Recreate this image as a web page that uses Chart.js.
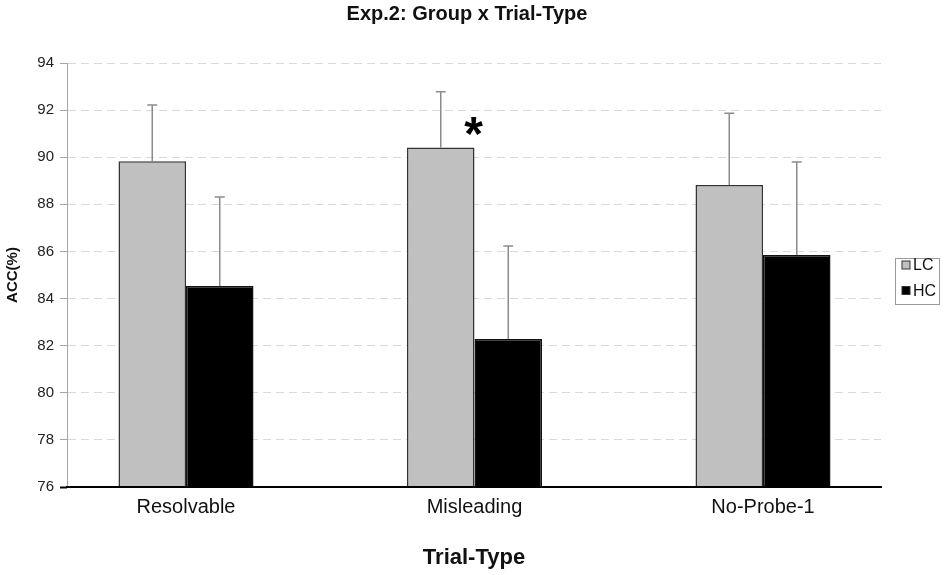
<!DOCTYPE html>
<html>
<head>
<meta charset="utf-8">
<title>Exp.2: Group x Trial-Type</title>
<script src="https://cdn.jsdelivr.net/npm/chart.js@4.4.1/dist/chart.umd.min.js"></script>
<style>
  html, body { margin: 0; padding: 0; background: #fff; }
  #wrap { width: 945px; height: 575px; }
</style>
</head>
<body>
<div id="wrap"><canvas id="accChart" width="945" height="575"></canvas></div>
<script>
// values (accuracy in %)
const trialTypes = ['Resolvable', 'Misleading', 'No-Probe-1'];
const groupNames = ['LC', 'HC'];
const lcMeans = [89.83, 90.41, 88.82];
const hcMeans = [84.53, 82.28, 85.85];
const lcErrors = [2.39, 2.37, 3.05];
const hcErrors = [3.78, 3.95, 3.95];
const yTicks = [76, 78, 80, 82, 84, 86, 88, 90, 92, 94];
const sigMarks = ['', '*', ''];
const sigLevel = 91.3;

const FONT = "'Liberation Sans', Arial, Helvetica, sans-serif";
const groupColors = ['#c0c0c0', '#000000'];

// error bars (upper half only) + significance star
const errorBarsPlugin = {
    id: 'errorBars',
    afterDatasetsDraw(chart) {
        const ctx = chart.ctx;
        const yScale = chart.scales.y;
        const errs = [lcErrors, hcErrors];
        ctx.save();
        ctx.strokeStyle = '#8c8c8c';
        ctx.lineWidth = 1.5;
        chart.data.datasets.forEach((ds, d) => {
            const meta = chart.getDatasetMeta(d);
            meta.data.forEach((bar, i) => {
                const yTop = yScale.getPixelForValue(ds.data[i].y + errs[d][i]);
                ctx.beginPath();
                ctx.moveTo(bar.x, bar.y);
                ctx.lineTo(bar.x, yTop);
                ctx.moveTo(bar.x - 5, yTop);
                ctx.lineTo(bar.x + 5, yTop);
                ctx.stroke();
            });
        });

        // star sits between the LC and HC bar of its category
        const lcMeta = chart.getDatasetMeta(0);
        const size = 48;
        ctx.fillStyle = '#000';
        ctx.font = 'bold ' + size + 'px ' + FONT;
        ctx.textAlign = 'center';
        ctx.textBaseline = 'alphabetic';
        sigMarks.forEach((mark, i) => {
            if (!mark) return;
            const bar = lcMeta.data[i];
            const x = bar.x + bar.width / 2 - 1;
            const y = yScale.getPixelForValue(sigLevel) + size * 0.48;
            ctx.fillText(mark, x, y);
        });
        ctx.restore();
    }
};

// small boxed legend to the right of the plot
const boxLegendPlugin = {
    id: 'boxLegend',
    afterDraw(chart) {
        const ctx = chart.ctx;
        const area = chart.chartArea;
        const left = area.right + 14;
        const top = (area.top + area.bottom) / 2 - 17;
        const w = 44, h = 46;
        ctx.save();
        ctx.strokeStyle = '#9a9a9a';
        ctx.lineWidth = 1;
        ctx.strokeRect(left + 0.5, top + 0.5, w, h);
        ctx.font = '16px ' + FONT;
        ctx.textBaseline = 'middle';
        ctx.textAlign = 'left';
        chart.data.datasets.forEach((ds, d) => {
            const cy = top + 7 + d * 25.5;
            ctx.fillStyle = ds.backgroundColor;
            ctx.fillRect(left + 7, cy - 4, 8, 8);
            ctx.strokeStyle = '#333';
            ctx.strokeRect(left + 7, cy - 4, 8, 8);
            ctx.fillStyle = '#111';
            ctx.fillText(ds.label, left + 18, cy + 1);
        });
        ctx.restore();
    }
};

const ctx = document.getElementById('accChart').getContext('2d');
new Chart(ctx, {
    type: 'bar',
    data: {
        datasets: [
            {
                label: groupNames[0],
                data: lcMeans.map((v, i) => ({ x: i, y: v })),
                backgroundColor: groupColors[0],
                borderColor: '#333',
                borderWidth: 1.5,
                borderSkipped: 'bottom'
            },
            {
                label: groupNames[1],
                data: hcMeans.map((v, i) => ({ x: i, y: v })),
                backgroundColor: groupColors[1],
                borderColor: '#111',
                borderWidth: 1.5,
                borderSkipped: 'bottom'
            }
        ]
    },
    options: {
        responsive: false,
        animation: false,
        categoryPercentage: 0.468,
        barPercentage: 1.0,
        layout: { padding: { left: 0, right: 11, top: 0, bottom: 0 } },
        plugins: {
            legend: { display: false },
            tooltip: { enabled: false },
            title: {
                display: true,
                text: 'Exp.2: Group x Trial-Type',
                color: '#111',
                font: { family: FONT, size: 20, weight: 'bold' },
                padding: { top: 2, bottom: 37 }
            }
        },
        scales: {
            x: {
                type: 'linear',
                offset: false,
                min: -0.4125,
                max: 2.409,
                afterBuildTicks: (scale) => { scale.ticks = trialTypes.map((t, i) => ({ value: i })); },
                afterFit: (scale) => { scale.height = 88; },
                ticks: {
                    callback: (v) => trialTypes[v],
                    color: '#111',
                    font: { family: FONT, size: 20 },
                    padding: 8,
                    autoSkip: false,
                    maxRotation: 0
                },
                grid: { display: false, drawTicks: false, offset: false },
                border: { display: true, color: '#000', width: 2, z: 1 },
                title: {
                    display: true,
                    text: 'Trial-Type',
                    color: '#111',
                    font: { family: FONT, size: 22, weight: 'bold' },
                    padding: { top: 0, bottom: 4 }
                }
            },
            y: {
                min: 76,
                max: 94,
                afterBuildTicks: (scale) => { scale.ticks = yTicks.map(v => ({ value: v })); },
                afterFit: (scale) => { scale.width = 67; },
                ticks: {
                    color: '#222',
                    font: { family: FONT, size: 15 },
                    padding: 6
                },
                grid: {
                    color: '#d9d9d9',
                    tickLength: 7,
                    tickColor: (c) => (c.tick && c.tick.value === 76 ? '#000' : '#a6a6a6'),
                    tickWidth: (c) => (c.tick && c.tick.value === 76 ? 2 : 1),
                    tickBorderDash: []
                },
                border: { display: true, color: '#a6a6a6', width: 1, dash: [8, 5] },
                title: {
                    display: true,
                    text: 'ACC(%)',
                    color: '#111',
                    font: { family: FONT, size: 15, weight: 'bold' },
                    padding: { top: 4, bottom: 0 }
                }
            },
            // empty right axis only reserves room for the boxed legend
            yLegend: {
                type: 'linear',
                axis: 'y',
                position: 'right',
                afterFit: (scale) => { scale.width = 53; },
                ticks: { display: false },
                grid: { display: false },
                border: { display: false }
            }
        }
    },
    plugins: [errorBarsPlugin, boxLegendPlugin]
});
</script>
</body>
</html>
